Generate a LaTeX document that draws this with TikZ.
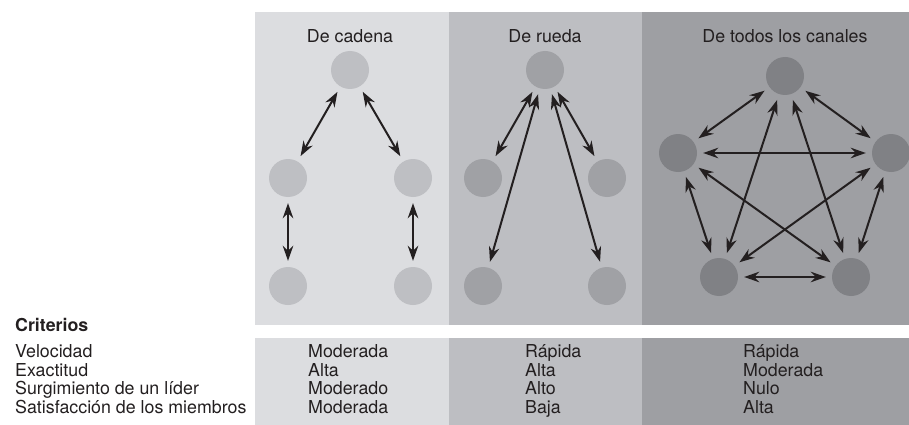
\documentclass[tikz,border=0pt]{standalone}
\usepackage{fontspec}
\setmainfont{TeX Gyre Heros}
\usetikzlibrary{arrows.meta}
\definecolor{bgA}{RGB}{220,221,224}
\definecolor{bgB}{RGB}{189,190,194}
\definecolor{bgC}{RGB}{158,159,163}
\definecolor{dotA}{RGB}{190,191,195}
\definecolor{dotB}{RGB}{160,161,165}
\definecolor{dotC}{RGB}{128,129,133}
\definecolor{inkcol}{RGB}{35,31,32}

\begin{document}
\begin{tikzpicture}[x=1pt, y=-1pt,
  every node/.style={font=\fontsize{17.8}{18}\selectfont, text=inkcol},
  dot/.style={circle, minimum size=38pt, inner sep=0pt},
  link/.style={draw=inkcol, line width=2pt,
    {Stealth[length=15pt,width=10.5pt]}-{Stealth[length=15pt,width=10.5pt]},
    shorten <=6pt, shorten >=6pt},
  title/.style={anchor=base},
  cell/.style={anchor=base west, inner sep=0pt},
]
\useasboundingbox (0,0) rectangle (909,425);

% ===== Panels =====
\fill[bgA] (255,12) rectangle (449,325);
\fill[bgB] (449,12) rectangle (642,325);
\fill[bgC] (642,12) rectangle (909,325);
\fill[bgA] (255,338) rectangle (449,425);
\fill[bgB] (449,338) rectangle (642,425);
\fill[bgC] (642,338) rectangle (909,425);

\node[title] (tA) at (350,43) {De cadena};
\node[title] (tB) at (545,43) {De rueda};
\node[title] (tC) at (785,43) {De todos los canales};

% ===== Chain =====
\node[dot, fill=dotA] (ct)  at (350,70)  {};
\node[dot, fill=dotA] (cl)  at (288,178) {};
\node[dot, fill=dotA] (cr)  at (413,178) {};
\node[dot, fill=dotA] (cbl) at (288,286) {};
\node[dot, fill=dotA] (cbr) at (413,286) {};
\draw[link] (ct) -- (cl);
\draw[link] (ct) -- (cr);
\draw[link] (cl) -- (cbl);
\draw[link] (cr) -- (cbr);

% ===== Wheel =====
\node[dot, fill=dotB] (wt)  at (545,70)  {};
\node[dot, fill=dotB] (wl)  at (483,178) {};
\node[dot, fill=dotB] (wr)  at (607,178) {};
\node[dot, fill=dotB] (wbl) at (483,286) {};
\node[dot, fill=dotB] (wbr) at (607,286) {};
\foreach \w in {wl,wr,wbl,wbr}{\draw[link] (wt) -- (\w);}

% ===== All channels =====
\node[dot, fill=dotC] (at)  at (785,76)  {};
\node[dot, fill=dotC] (al)  at (678,153) {};
\node[dot, fill=dotC] (ar)  at (891,153) {};
\node[dot, fill=dotC] (abl) at (719,277) {};
\node[dot, fill=dotC] (abr) at (851,277) {};
\foreach \p/\q in {at/al,at/ar,at/abl,at/abr,al/ar,al/abl,al/abr,ar/abl,ar/abr,abl/abr}
  {\draw[link] (\p) -- (\q);}

% ===== Criteria table =====
\node[cell, font=\fontsize{17.8}{18}\selectfont\bfseries] (crit) at (15,331) {Criterios};
\foreach \c/\x/\y/\z [count=\i] in {
  Velocidad/Moderada/Rápida/Rápida,
  Exactitud/Alta/Alta/Moderada,
  Surgimiento de un líder/Moderado/Alto/Nulo,
  Satisfacción de los miembros/Moderada/Baja/Alta}{
  \pgfmathsetmacro{\ry}{357.5+18.5*(\i-1)}
  \node[cell] (row\i) at (15,\ry) {\c};
  \node[cell] (va\i) at (308,\ry) {\x};
  \node[cell] (vb\i) at (525,\ry) {\y};
  \node[cell] (vc\i) at (743,\ry) {\z};
}
\end{tikzpicture}
\end{document}
